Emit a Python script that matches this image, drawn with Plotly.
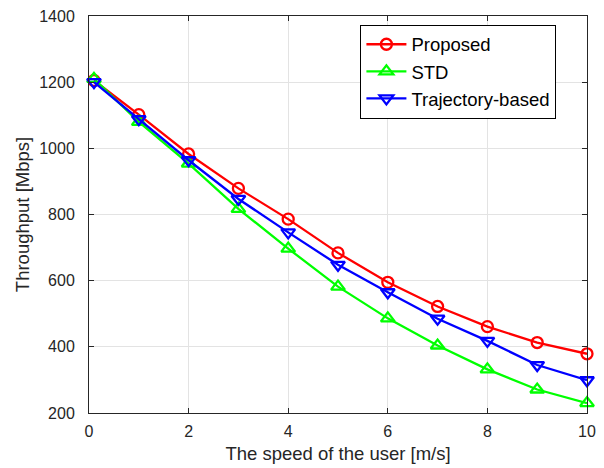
import plotly.graph_objects as go

speed = [0.1, 1, 2, 3, 4, 5, 6, 7, 8, 9, 10]
proposed = [1205, 1102, 983, 879, 786, 684, 595, 522, 461, 413, 379]
std = [1210, 1080, 954, 817, 697, 582, 486, 404, 332, 271, 230]
trajectory = [1200, 1088, 964, 847, 746, 648, 565, 485, 418, 345, 299]

x_ticks = [0, 2, 4, 6, 8, 10]
y_ticks = [200, 400, 600, 800, 1000, 1200, 1400]

fig = go.Figure()
series = [
    ("Proposed", proposed, "#ff0000", "circle-open", 11),
    ("STD", std, "#00ff00", "triangle-up-open", 12),
    ("Trajectory-based", trajectory, "#0000ff", "triangle-down-open", 12),
]
for name, vals, color, sym, sz in series:
    fig.add_trace(go.Scatter(
        x=speed, y=vals, name=name, mode="lines+markers",
        line=dict(color=color, width=2.3),
        marker=dict(symbol=sym, size=sz, color=color, line=dict(color=color, width=2.3)),
        cliponaxis=False,
    ))

FONT = "Liberation Sans, Arial, sans-serif"
axis_common = dict(
    showline=True, mirror="ticks", linecolor="#262626", linewidth=1,
    ticks="inside", ticklen=5, tickcolor="#262626",
    showgrid=True, gridcolor="#e3e3e3", gridwidth=1, zeroline=False,
    tickfont=dict(family=FONT, size=16, color="#262626"),
)

fig.update_layout(
    width=604, height=468,
    margin=dict(l=89, r=8, t=14, b=54),
    paper_bgcolor="white", plot_bgcolor="white",
    font=dict(family=FONT, color="#262626"),
    xaxis=dict(range=[0, 10], tickvals=x_ticks,
               title=dict(text="The speed of the user [m/s]", font=dict(size=18.5), standoff=7),
               ticklabelstandoff=4,
               **axis_common),
    yaxis=dict(range=[200, 1400], tickvals=y_ticks,
               title=dict(text="Throughput [Mbps]", font=dict(size=18.5), standoff=4),
               ticklabelstandoff=10,
               **axis_common),
    legend=dict(x=0.545, y=0.978, xanchor="left", yanchor="top",
                bgcolor="white", bordercolor="#000000", borderwidth=1,
                font=dict(family=FONT, size=18.5, color="#000000"), tracegroupgap=0,
                itemwidth=40),
    showlegend=True,
)

fig.write_html("out.html", config={"displayModeBar": False},
               post_script="document.body.style.margin='0';document.body.style.padding='0';")
